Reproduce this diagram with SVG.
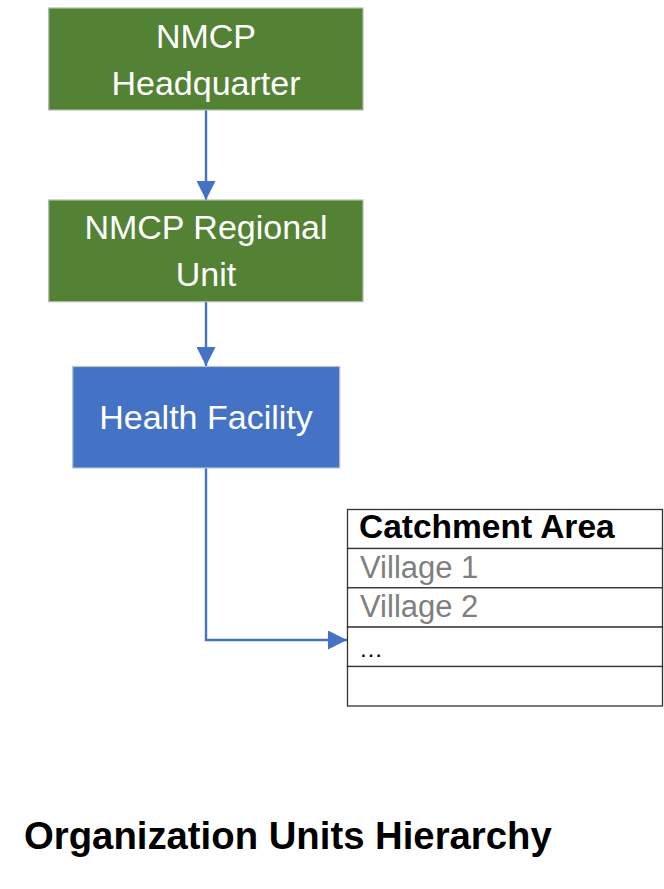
<svg xmlns="http://www.w3.org/2000/svg" width="664" height="889" viewBox="0 0 664 889">
<defs>
<style>
.box-green{fill:#548235;stroke:#b4bcae;stroke-width:1.2}
.box-blue{fill:#4472c4;stroke:#b8c2d6;stroke-width:1.2}
.ntext{font-family:"Liberation Sans",Arial,sans-serif;font-size:34px;fill:#ffffff;text-anchor:middle}
.conn{fill:none;stroke:#4472c4;stroke-width:2.4}
.cell{fill:#ffffff;stroke:#333333;stroke-width:1.3}
.thead{font-family:"Liberation Sans",Arial,sans-serif;font-size:33.5px;font-weight:bold;fill:#000000}
.trow{font-family:"Liberation Sans",Arial,sans-serif;font-size:31px;fill:#7f7f7f}
.tdots{font-family:"Liberation Sans",Arial,sans-serif;font-size:24px;fill:#000000}
.title{font-family:"Liberation Sans",Arial,sans-serif;font-size:38.3px;font-weight:bold;fill:#000000}
</style>
<marker id="arrow" markerUnits="userSpaceOnUse" markerWidth="19" markerHeight="19" refX="19" refY="9.5" orient="auto" viewBox="0 0 19 19">
<path d="M0,0 L19,9.5 L0,19 z" fill="#4472c4"/>
</marker>
</defs>
<rect width="664" height="889" fill="#ffffff"/>
<g id="connectors">
<path class="conn" d="M206,110 L206,200" marker-end="url(#arrow)"/>
<path class="conn" d="M206,301.7 L206,366" marker-end="url(#arrow)"/>
<path class="conn" d="M206,468 L206,640 L347,640" marker-end="url(#arrow)"/>
</g>
<g id="node-headquarter">
<rect class="box-green" x="48.7" y="8" width="314.3" height="102"/>
<text class="ntext" x="206" y="48">NMCP</text>
<text class="ntext" x="206" y="94.5">Headquarter</text>
</g>
<g id="node-regional">
<rect class="box-green" x="48.7" y="200" width="314.3" height="101.7"/>
<text class="ntext" x="206" y="238.5">NMCP Regional</text>
<text class="ntext" x="206" y="286">Unit</text>
</g>
<g id="node-facility">
<rect class="box-blue" x="72.7" y="366.5" width="267" height="101.5"/>
<text class="ntext" x="206" y="428.5">Health Facility</text>
</g>
<g id="node-catchment">
<rect class="cell" x="347.5" y="509.5" width="315" height="39"/>
<rect class="cell" x="347.5" y="548.5" width="315" height="39.3"/>
<rect class="cell" x="347.5" y="587.8" width="315" height="39.3"/>
<rect class="cell" x="347.5" y="627.1" width="315" height="39.4"/>
<rect class="cell" x="347.5" y="666.5" width="315" height="39.5"/>
<text class="thead" x="359" y="537.5">Catchment Area</text>
<text class="trow" x="360" y="577.5">Village 1</text>
<text class="trow" x="360" y="617">Village 2</text>
<text class="tdots" x="359" y="657">…</text>
</g>
<text class="title" x="24" y="849">Organization Units Hierarchy</text>
</svg>
